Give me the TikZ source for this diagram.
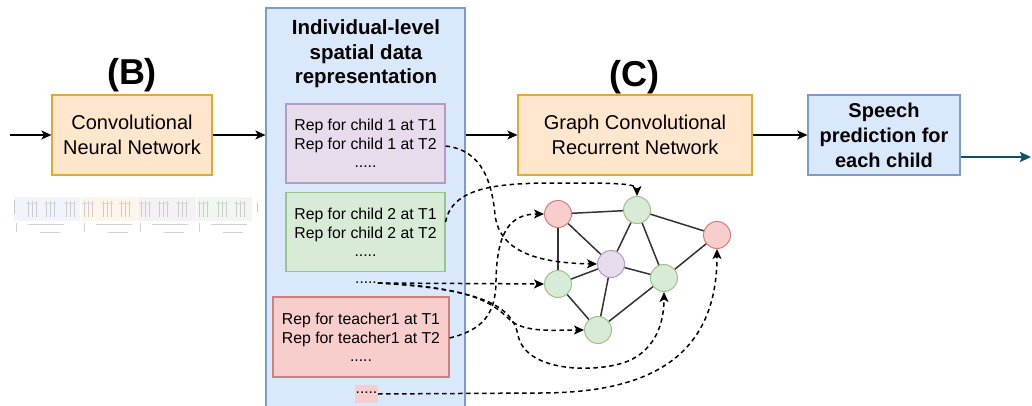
\documentclass[tikz,border=0pt]{standalone}
\usepackage{fontspec}
\setmainfont{Liberation Sans}
\usetikzlibrary{arrows.meta,calc}
\definecolor{orF}{HTML}{FFE6CC}\definecolor{orD}{HTML}{E3A92B}
\definecolor{blF}{HTML}{DAE8FC}\definecolor{blD}{HTML}{7A9CD0}
\definecolor{puF}{HTML}{E7DCEC}\definecolor{puD}{HTML}{B49BC2}
\definecolor{grF}{HTML}{D8EBD6}\definecolor{grD}{HTML}{9CC48A}
\definecolor{reF}{HTML}{F8CECC}\definecolor{reD}{HTML}{D0807C}
\definecolor{tealA}{HTML}{10506A}
\definecolor{edgeC}{HTML}{333333}
\begin{document}
\begin{tikzpicture}[x=1pt,y=-1pt,
  box/.style={draw, line width=1.2pt, inner sep=0pt, align=center, font=\fontsize{20}{25}\selectfont},
  repbox/.style={draw, line width=1.2pt, inner sep=0pt, align=center, font=\fontsize{15.8}{19}\selectfont, minimum height=79pt},
  arr/.style={line width=1.5pt, -{Stealth[length=10pt,width=9pt,inset=2.5pt]}},
  dsh/.style={line width=1.5pt, dash pattern=on 4.5pt off 3.5pt, -{Stealth[length=10pt,width=9pt,inset=2.5pt]}},
  vtx/.style={circle, draw, line width=1pt, minimum size=27pt, inner sep=0pt},
  edg/.style={edgeC, line width=1.5pt},
  lbl/.style={font=\bfseries\fontsize{36}{40}\selectfont, inner sep=0pt}
]
\useasboundingbox (0,0) rectangle (1032,406);
\clip (0,0) rectangle (1032,406);
\fill[white] (0,0) rectangle (1032,406);

% faint strip of small images under the CNN
\fill[blF, opacity=0.4] (14,197) rectangle (80,221);
\fill[orF, opacity=0.4] (81,197) rectangle (137,221);
\fill[puF, opacity=0.4] (138,197) rectangle (196,221);
\fill[grF, opacity=0.4] (197,197) rectangle (252,221);
\foreach \x in {32,50,70,88,107,125,145,163,182,203,222,240}{
  \foreach \d in {-4,0,4}{\draw[gray!40, line width=0.6pt] (\x+\d,201) -- (\x+\d,217);}
  \draw[gray!30, line width=0.6pt] (\x-6,203) -- (\x+6,203);
}
\foreach \b in {16,84,140,199}{
  \draw[gray!35, line width=0.6pt] (\b,223) -- (\b,232);
  \draw[gray!35, line width=0.6pt] (\b+12,224) -- (\b+48,224);
  \draw[gray!35, line width=0.6pt] (\b+24,232) -- (\b+44,232);
}
\draw[gray!45, line width=0.6pt] (14,200) -- (14,214);
\draw[gray!45, line width=0.6pt] (257,203) -- (257,212);

% labels
\node[lbl] (labB) at (132,75) {(B)};
\node[lbl] (labC) at (634,77) {(C)};

% main boxes
\node[box, fill=orF, draw=orD, minimum width=160pt, minimum height=80pt] (cnn) at (132,135) {Convolutional\\Neural Network};
\node[draw=blD, fill=blF, line width=1.2pt, minimum width=199pt, minimum height=420pt, inner sep=0pt] (panel) at (365.5,218) {};
\node[font=\bfseries\fontsize{20.5}{24.5}\selectfont, align=center, inner sep=0pt] (title) at (366,54) {Individual-level\\spatial data\\representation};

\node[repbox, fill=puF, draw=puD, minimum width=159pt] (pbox) at (365.5,143.5) {Rep for child 1 at T1\\Rep for child 1 at T2\\[-1pt].....};
\node[repbox, fill=grF, draw=grD, minimum width=159pt] (gbox) at (365.5,232) {Rep for child 2 at T1\\Rep for child 2 at T2\\[-1pt].....};
\node[repbox, fill=reF, draw=reD, minimum width=176pt, minimum height=80pt] (rbox) at (361,337) {Rep for teacher1 at T1\\Rep for teacher1 at T2\\[-1pt].....};
\node[font=\fontsize{15.5}{19}\selectfont, inner sep=1pt] (dotsA) at (366,283) {.....};
\node[font=\fontsize{15.5}{19}\selectfont, fill=reF, minimum width=23pt, minimum height=18pt, inner sep=0pt] (dotsB) at (366.5,394) {\raisebox{3pt}{.....}};

\node[box, fill=orF, draw=orD, minimum width=234pt, minimum height=80pt] (gcrn) at (635,135) {Graph Convolutional\\Recurrent Network};
\node[box, fill=blF, draw=blD, minimum width=152pt, minimum height=80pt, font=\bfseries\fontsize{20}{25}\selectfont] (speech) at (884,135) {Speech\\prediction for\\each child};

% main arrows
\coordinate (in0) at (10,135);
\coordinate (out0) at (1031,157);
\draw[arr] (in0) -- (cnn.west);
\draw[arr] (cnn.east) -- (cnn.east -| panel.west);
\draw[arr] (cnn.east -| panel.east) -- (gcrn.west);
\draw[arr] (gcrn.east) -- (speech.west);
\draw[line width=2pt, tealA, -{Stealth[length=11pt,width=10pt,inset=2pt]}] (speech.east |- out0) -- (out0);

% graph vertices
\node[vtx, fill=reF, draw=reD] (R1) at (558,214) {};
\node[vtx, fill=grF, draw=grD] (G1) at (637,210) {};
\node[vtx, fill=reF, draw=reD] (R2) at (717,235) {};
\node[vtx, fill=puF, draw=puD] (P)  at (611,264) {};
\node[vtx, fill=grF, draw=grD] (G2) at (558,284) {};
\node[vtx, fill=grF, draw=grD] (G3) at (664,278) {};
\node[vtx, fill=grF, draw=grD] (G4) at (598,330) {};

% graph edges
\draw[edg] (R1) -- (G1);
\draw[edg] (R1) -- (G2);
\draw[edg] (R1) -- (P);
\draw[edg] (G1) -- (P);
\draw[edg] (G1) -- (G3);
\draw[edg] (G1) -- (R2);
\draw[edg] (R2) -- (G3);
\draw[edg] (P) -- (G3);
\draw[edg] (P) -- (G4);
\draw[edg] (G2) -- (P);
\draw[edg] (G2) -- (G4);
\draw[edg] (G4) -- (G3);

% dashed mapping arrows
\coordinate (sA) at (pbox.east |- 0,146);
\coordinate (sB) at (gbox.east |- 0,222);
\coordinate (sC) at (rbox.east |- 0,338);
\draw[dsh] (sA) .. controls (482,150) and (492,182) .. (495,215) .. controls (500,255) and (545,263) .. (P.west);
\draw[dsh] (sB) .. controls (452,188) and (495,183) .. (555,183) .. controls (610,183) and (637,183) .. (G1.north);
\draw[dsh] (dotsA.east) -- (G2.west);
\draw[dsh] (dotsA.east) .. controls (470,287) and (492,302) .. (510,320) .. controls (525,333) and (555,330) .. (G4.west);
\draw[dsh] (dotsA.east) .. controls (480,289) and (512,305) .. (518,335) .. controls (525,370) and (585,372) .. (615,365) .. controls (650,358) and (664,330) .. (G3.south);
\draw[dsh] (sC) .. controls (482,330) and (496,315) .. (496,280) .. controls (497,232) and (510,214) .. (R1.west);
\draw[dsh] (dotsB.east) -- (540,393) .. controls (645,393) and (717,360) .. (R2.south);
\end{tikzpicture}
\end{document}
